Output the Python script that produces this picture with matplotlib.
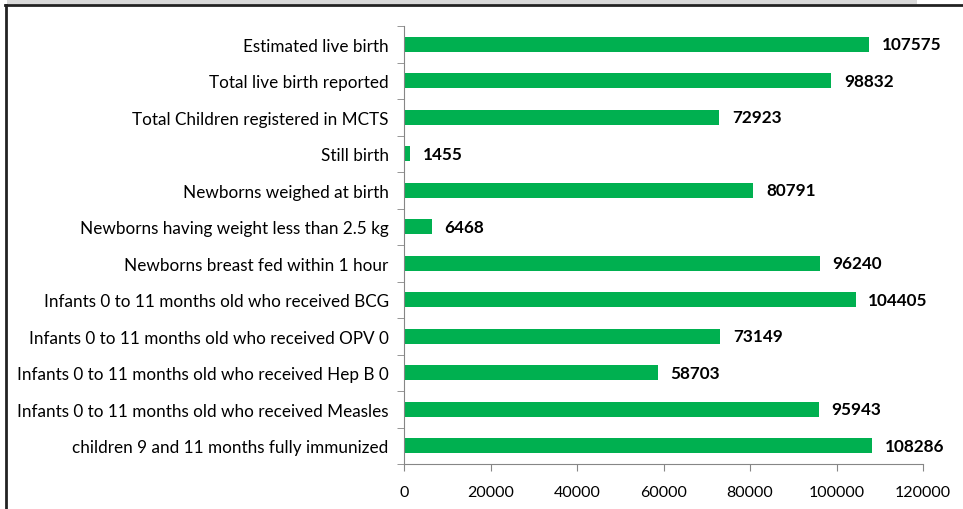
import matplotlib
matplotlib.use("Agg")
import matplotlib.pyplot as plt
from matplotlib.patches import Rectangle
from matplotlib.lines import Line2D

# data (top to bottom)
categories = [
    "Estimated live birth",
    "Total live birth reported",
    "Total Children registered in MCTS",
    "Still birth",
    "Newborns weighed at birth",
    "Newborns having weight less than 2.5 kg",
    "Newborns breast fed within 1 hour",
    "Infants 0 to 11 months old who received BCG",
    "Infants 0 to 11 months old who received OPV 0",
    "Infants 0 to 11 months old who received Hep B 0",
    "Infants 0 to 11 months old who received Measles",
    "children 9 and 11 months fully immunized",
]
values = [107575, 98832, 72923, 1455, 80791, 6468, 96240, 104405, 73149, 58703, 95943, 108286]
xticks = [0, 20000, 40000, 60000, 80000, 100000, 120000]

plt.rcParams['font.family'] = ['Lato', 'DejaVu Sans']

W, H = 963, 510
fig = plt.figure(figsize=(W / 100, H / 100), dpi=100)

# frame pieces: grey strip on top, black border top and left
fig.patches.append(Rectangle((7 / W, 1 - 5 / H), 910 / W, 5 / H, transform=fig.transFigure,
                             facecolor="#d9d9d9", edgecolor="none"))
fig.lines.append(Line2D([5 / W, 1], [1 - 5.5 / H, 1 - 5.5 / H], transform=fig.transFigure,
                        color="#222222", lw=2))
fig.lines.append(Line2D([5.5 / W, 5.5 / W], [0, 1 - 5.5 / H], transform=fig.transFigure,
                        color="#222222", lw=2))

ax = fig.add_axes([404 / W, 1 - 465 / H, (923 - 404) / W, (465 - 27) / H])

y = list(range(len(categories)))
ax.barh(y, values, height=0.4, color="#00b050")
for yi, v in zip(y, values):
    ax.annotate(str(v), (v, yi), xytext=(9, 0), textcoords="offset points",
                va="center", ha="left", fontsize=12.3, fontweight="bold", color="black")

ax.set_ylim(len(categories) - 0.5, -0.5)
ax.set_xlim(0, 120000)
ax.set_xticks(xticks)
ax.set_xticklabels([str(t) for t in xticks], fontsize=11.5)

ax.set_yticks(y)
ax.set_yticklabels(categories, fontsize=12.3)
ax.set_yticks([i - 0.5 for i in range(len(categories) + 1)], minor=True)
ax.tick_params(axis="y", which="major", length=0, pad=11)
ax.tick_params(axis="y", which="minor", length=5, color="#868686")
ax.tick_params(axis="x", length=5, color="#868686", pad=10)

for s in ["top", "right"]:
    ax.spines[s].set_visible(False)
for s in ["left", "bottom"]:
    ax.spines[s].set_color("#868686")

fig.savefig("out.png", dpi=100)
